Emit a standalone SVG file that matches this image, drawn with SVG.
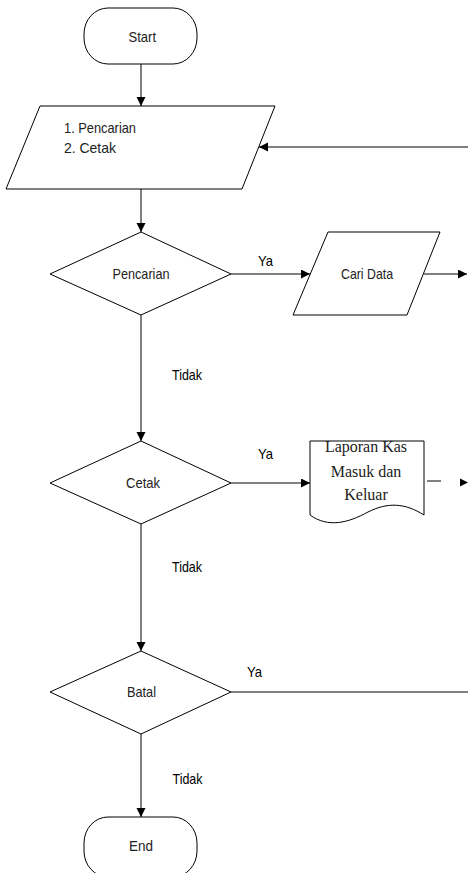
<svg xmlns="http://www.w3.org/2000/svg" width="468" height="873" viewBox="0 0 468 873">
<style>
  .shape { fill: #ffffff; stroke: #000000; stroke-width: 1; }
  .line { fill: none; stroke: #000000; stroke-width: 1; }
  .txt { font-family: "Liberation Sans", Arial, sans-serif; font-size: 14.5px; fill: #222222; }
  .lbl { font-family: "Liberation Sans", Arial, sans-serif; font-size: 14.5px; fill: #000000; }
  .serif { font-family: "Liberation Serif", "Times New Roman", serif; font-size: 16px; fill: #222222; }
  .mid { text-anchor: middle; }
</style>
<defs>
  <marker id="arrow" markerUnits="userSpaceOnUse" markerWidth="10" markerHeight="10" refX="9" refY="4.5" orient="auto">
    <path d="M0,0 L9,4.5 L0,9 Z" fill="#000000"/>
  </marker>
</defs>
<rect width="468" height="873" fill="#ffffff"/>

<g id="connectors">
  <line class="line" x1="141" y1="64" x2="141" y2="106" marker-end="url(#arrow)"/>
  <line class="line" x1="468" y1="147" x2="259" y2="147" marker-end="url(#arrow)"/>
  <line class="line" x1="141" y1="189" x2="141" y2="232" marker-end="url(#arrow)"/>
  <line class="line" x1="231" y1="274" x2="310" y2="274" marker-end="url(#arrow)"/>
  <line class="line" x1="424" y1="274" x2="467" y2="274" marker-end="url(#arrow)"/>
  <line class="line" x1="141" y1="315" x2="141" y2="441" marker-end="url(#arrow)"/>
  <line class="line" x1="231" y1="483" x2="310" y2="483" marker-end="url(#arrow)"/>
  <line class="line" x1="427" y1="481" x2="441" y2="481"/>
  <polygon points="460,478.5 468,482.5 460,486.5" fill="#000000"/>
  <line class="line" x1="141" y1="524" x2="141" y2="651" marker-end="url(#arrow)"/>
  <line class="line" x1="231" y1="692" x2="468" y2="692"/>
  <line class="line" x1="141" y1="734" x2="141" y2="817" marker-end="url(#arrow)"/>
  <text class="lbl" x="258" y="266" textLength="15" lengthAdjust="spacingAndGlyphs">Ya</text>
  <text class="lbl" x="172" y="379.5" textLength="30" lengthAdjust="spacingAndGlyphs">Tidak</text>
  <text class="lbl" x="258" y="459" textLength="15" lengthAdjust="spacingAndGlyphs">Ya</text>
  <text class="lbl" x="172" y="571.5" textLength="30" lengthAdjust="spacingAndGlyphs">Tidak</text>
  <text class="lbl" x="247" y="677" textLength="15" lengthAdjust="spacingAndGlyphs">Ya</text>
  <text class="lbl" x="172.5" y="784" textLength="30" lengthAdjust="spacingAndGlyphs">Tidak</text>
</g>

<g id="start">
  <rect class="shape" x="84" y="8" width="113" height="56" rx="24" ry="26"/>
  <text class="txt" x="128.5" y="41.5" textLength="27.5" lengthAdjust="spacingAndGlyphs">Start</text>
</g>

<g id="menu">
  <polygon class="shape" points="40,106 275,106 242,189 6,189"/>
  <text class="txt" x="64" y="133" textLength="72" lengthAdjust="spacingAndGlyphs">1. Pencarian</text>
  <text class="txt" x="64" y="153" textLength="52" lengthAdjust="spacingAndGlyphs">2. Cetak</text>
</g>

<g id="dec-pencarian">
  <polygon class="shape" points="141,232 231,274 141,315 50,274"/>
  <text class="txt" x="112.5" y="279" textLength="57" lengthAdjust="spacingAndGlyphs">Pencarian</text>
</g>

<g id="cari-data">
  <polygon class="shape" points="328,232 440,232 407,315 293,315"/>
  <text class="txt" x="341" y="278.5" textLength="52" lengthAdjust="spacingAndGlyphs">Cari Data</text>
</g>

<g id="dec-cetak">
  <polygon class="shape" points="141,441 231,483 141,524 50,483"/>
  <text class="txt" x="126" y="487.5" textLength="34" lengthAdjust="spacingAndGlyphs">Cetak</text>
</g>

<g id="laporan">
  <path class="shape" d="M310,515 L310,441 L424,441 L424,515 C405,503 388,502 368,512 C348,523 328,528 310,515 Z"/>
  <text class="serif mid" x="366" y="452">Laporan Kas</text>
  <text class="serif mid" x="366" y="477">Masuk dan</text>
  <text class="serif mid" x="366" y="500">Keluar</text>
</g>

<g id="dec-batal">
  <polygon class="shape" points="141,651 231,692 141,734 50,692"/>
  <text class="txt" x="127" y="697" textLength="29" lengthAdjust="spacingAndGlyphs">Batal</text>
</g>

<g id="end">
  <rect class="shape" x="84" y="817" width="113" height="60" rx="24" ry="26"/>
  <text class="txt" x="129" y="851" textLength="24" lengthAdjust="spacingAndGlyphs">End</text>
</g>
</svg>
